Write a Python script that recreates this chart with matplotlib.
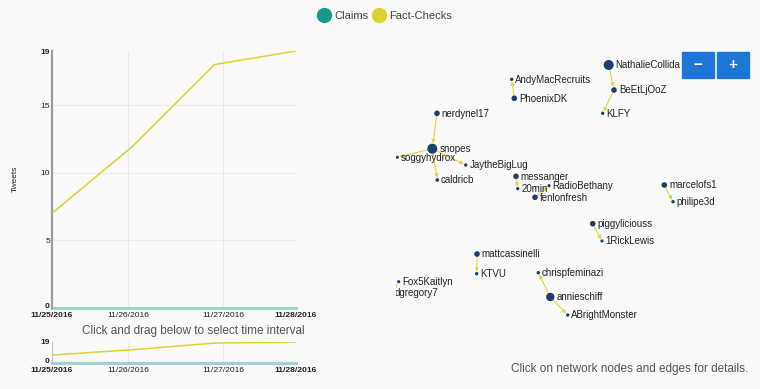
import numpy as np
import matplotlib
matplotlib.use("Agg")
import matplotlib.pyplot as plt
from matplotlib.lines import Line2D
from matplotlib.patches import FancyArrowPatch, Rectangle

plt.rcParams['font.family'] = ['Liberation Sans', 'DejaVu Sans']

# time series (days since 11/25/2016 00:00)
days = [0, 1, 2, 3]
fact_checks = [7, 12, 18, 19]
claims = [0, 0, 0, 0]
tick_days = [0, 0.935, 2.105, 3]
tick_labels = ['11/25/2016', '11/26/2016', '11/27/2016', '11/28/2016']
y_ticks = [0, 5, 10, 15, 19]

# network (layout positions in screen units)
node_names = ['NathalieCollida', 'BeEtLjOoZ', 'KLFY', 'AndyMacRecruits', 'PhoenixDK',
              'nerdynel17', 'snopes', 'soggyhydrox', 'JaytheBigLug', 'caldricb',
              'messanger', '20min', 'RadioBethany', 'fenlonfresh', 'marcelofs1',
              'philipe3d', 'piggyliciouss', '1RickLewis', 'mattcassinelli', 'KTVU',
              'chrispfeminazi', 'annieschiff', 'ABrightMonster', 'Fox5Kaitlyn', 'dgregory7']
node_x = [608.7, 614, 602.7, 511.7, 514.3, 437, 432.3, 397.3, 465.7, 437.3,
          516, 517.7, 549, 535, 664.3, 673, 592.7, 602, 477, 476.7,
          538.3, 550.3, 567.7, 398.7, 391]
node_y = [65, 90, 113.3, 79.3, 98.3, 113.3, 148.7, 157.3, 165, 180,
          176.3, 188.7, 185.7, 197.3, 185, 201.7, 223.7, 241, 254, 273.7,
          272.7, 297, 315, 281.7, 292.3]
node_r = [5, 2.8, 1.7, 1.7, 2.8, 2.8, 5, 1.6, 1.7, 1.8,
          2.8, 1.6, 1.6, 2.8, 2.8, 1.7, 2.8, 1.6, 2.8, 1.7,
          1.7, 4.2, 1.7, 1.6, 1.6]
edges = [('NathalieCollida', 'BeEtLjOoZ'), ('BeEtLjOoZ', 'KLFY'),
         ('PhoenixDK', 'AndyMacRecruits'), ('nerdynel17', 'snopes'),
         ('snopes', 'soggyhydrox'), ('snopes', 'JaytheBigLug'), ('snopes', 'caldricb'),
         ('messanger', '20min'), ('fenlonfresh', 'RadioBethany'),
         ('marcelofs1', 'philipe3d'), ('piggyliciouss', '1RickLewis'),
         ('mattcassinelli', 'KTVU'), ('annieschiff', 'chrispfeminazi'),
         ('annieschiff', 'ABrightMonster'), ('dgregory7', 'Fox5Kaitlyn')]

teal = '#17998f'
yellow = '#dcd232'
navy = '#1c3f6e'
W, H = 760, 389

fig = plt.figure(figsize=(7.6, 3.89), dpi=100)
fig.patch.set_facecolor('#fafafa')


def style_time_axis(ax, main):
    ax.set_facecolor('none')
    ax.set_xlim(0, 3)
    ax.set_ylim(0, 19)
    for s in ['top', 'right', 'bottom']:
        ax.spines[s].set_visible(False)
    ax.spines['left'].set_color('#9b9b9b' if main else '#c4c4c4')
    ax.spines['left'].set_linewidth(1.6 if main else 0.8)
    for t in tick_days[1:-1]:
        ax.axvline(t, color='#ebebeb', lw=0.8, zorder=0)
    ax.set_xticks(tick_days)
    ax.set_xticklabels(tick_labels)
    if main:
        ax.set_yticks(y_ticks)
        ax.set_yticklabels([str(v) for v in y_ticks])
        for v in y_ticks[1:-1]:
            ax.axhline(v, color='#ebebeb', lw=0.8, zorder=0)
    else:
        ax.set_yticks([0, 19])
        ax.set_yticklabels(['0', '19'])
    ax.tick_params(axis='x', length=0, labelsize=6.1, colors='#222', pad=3)
    ax.tick_params(axis='y', length=0, labelsize=6.1, colors='#222', pad=1.5)
    for i, lab in enumerate(ax.get_xticklabels()):
        if i in (0, len(tick_days) - 1):
            lab.set_fontweight('bold')
    ylabs = ax.get_yticklabels()
    ylabs[0].set_fontweight('bold')
    ylabs[0].set_verticalalignment('baseline')
    ylabs[-1].set_fontweight('bold')
    ax.plot(days, fact_checks, color=yellow, lw=1.1, zorder=3)
    ax.plot(days, claims, color=teal, lw=2.2, alpha=0.4, zorder=2, clip_on=False)


ax = fig.add_axes([52 / W, 1 - 308 / H, 244 / W, 257 / H])
style_time_axis(ax, True)
fig.text(15 / W, 1 - 179 / H, 'Tweets', rotation=90, ha='center', va='center',
         fontsize=6, color='#222')

ctx = fig.add_axes([52 / W, 1 - 362.7 / H, 244 / W, 20.7 / H])
style_time_axis(ctx, False)

fig.text(193 / W, 1 - 331 / H, 'Click and drag below to select time interval',
         ha='center', va='center', fontsize=8.5, color='#555')

handles = [Line2D([], [], marker='o', linestyle='', markersize=10, color=teal),
           Line2D([], [], marker='o', linestyle='', markersize=10, color=yellow)]
fig.legend(handles, ['Claims', 'Fact-Checks'], loc='center', ncol=2, frameon=False,
           bbox_to_anchor=(385.5 / W, 1 - 16 / H), fontsize=8, handlelength=0.9,
           handletextpad=0.45, columnspacing=0.55, labelcolor='#444')

# network panel
net = fig.add_axes([396 / W, 0, (W - 396) / W, 1])
net.set_xlim(396, W)
net.set_ylim(H, 0)
net.axis('off')
pos = {n: (x, y, r) for n, x, y, r in zip(node_names, node_x, node_y, node_r)}
for s, t in edges:
    xs, ys, rs = pos[s]
    xt, yt, rt = pos[t]
    arr = FancyArrowPatch((xs, ys), (xt, yt), arrowstyle='-|>', mutation_scale=5,
                          color='#e3d640', lw=0.8, shrinkA=rs * 0.72,
                          shrinkB=rt * 0.72 + 0.3, zorder=2)
    net.add_patch(arr)
net.scatter(node_x, node_y, s=[(2 * r * 0.72) ** 2 for r in node_r], color=navy,
            zorder=3, linewidths=0)
for n, x, y, r in zip(node_names, node_x, node_y, node_r):
    net.text(x + r + 2, y + 3.4, n, fontsize=7, color='#222', ha='left',
             va='baseline', clip_on=True, zorder=4)

fig.text(748 / W, 1 - 369 / H, 'Click on network nodes and edges for details.',
         ha='right', va='center', fontsize=8.5, color='#555')

# zoom buttons
ov = fig.add_axes([0, 0, 1, 1])
ov.set_xlim(0, W)
ov.set_ylim(H, 0)
ov.axis('off')
for x0, sym in [(682, '\u2212'), (717, '+')]:
    ov.add_patch(Rectangle((x0, 51.5), 32, 26, color='#1b76d6', zorder=5))
    ov.text(x0 + 16, 64.5, sym, color='white', fontsize=11, fontweight='bold',
            ha='center', va='center', zorder=6)

fig.savefig('out.png', dpi=100, facecolor=fig.get_facecolor())
